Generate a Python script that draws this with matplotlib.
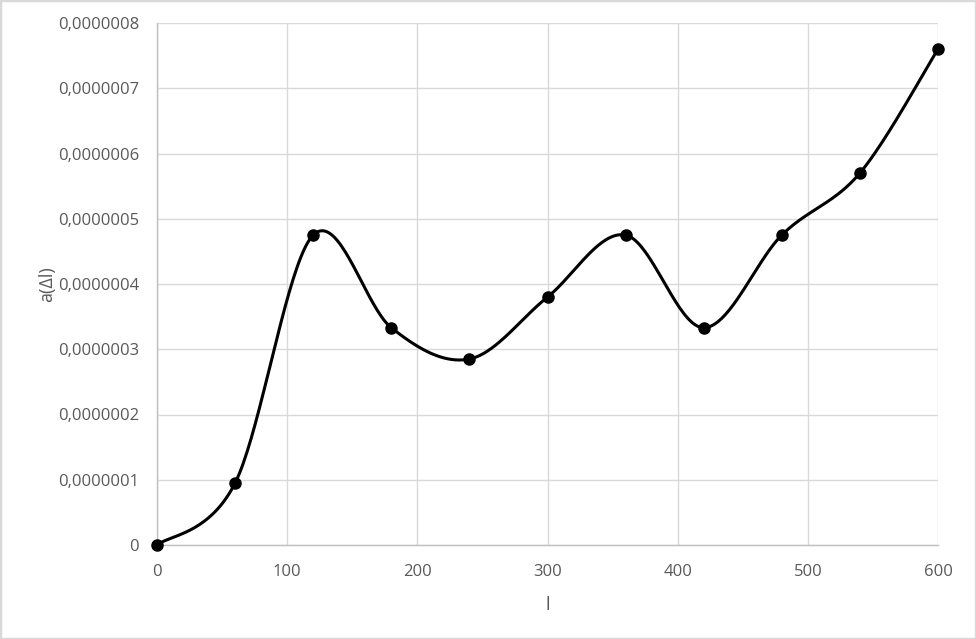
import matplotlib
matplotlib.use("Agg")
import matplotlib.pyplot as plt
import numpy as np

x_vals = [0, 60, 120, 180, 240, 300, 360, 420, 480, 540, 600]
y_vals = [0, 9.5e-8, 4.75e-7, 3.33e-7, 2.85e-7, 3.8e-7, 4.75e-7, 3.33e-7, 4.75e-7, 5.7e-7, 7.6e-7]
x_ticks = [0, 100, 200, 300, 400, 500, 600]
y_ticks = [0, 1e-7, 2e-7, 3e-7, 4e-7, 5e-7, 6e-7, 7e-7, 8e-7]
y_labels = ["0", "0,0000001", "0,0000002", "0,0000003", "0,0000004",
            "0,0000005", "0,0000006", "0,0000007", "0,0000008"]

plt.rcParams['font.family'] = ['Open Sans', 'DejaVu Sans']

def smooth(xs, ys, n=40):
    P = np.column_stack([xs, ys]).astype(float)
    out = []
    m = len(P)
    for i in range(m - 1):
        p0 = P[i - 1] if i > 0 else P[i]
        p1 = P[i]
        p2 = P[i + 1]
        p3 = P[i + 2] if i + 2 < m else P[i + 1]
        c1 = p1 + (p2 - p0) / 6.0
        c2 = p2 - (p3 - p1) / 6.0
        t = np.linspace(0, 1, n)[:, None]
        seg = ((1 - t) ** 3) * p1 + 3 * ((1 - t) ** 2) * t * c1 + 3 * (1 - t) * t ** 2 * c2 + t ** 3 * p2
        if i > 0:
            seg = seg[1:]
        out.append(seg)
    out = np.vstack(out)
    return out[:, 0], out[:, 1]

fig = plt.figure(figsize=(9.76, 6.39), dpi=100)
ax = fig.add_axes([157/976, 1 - 545/639, (938 - 157)/976, (545 - 23)/639])

sx, sy = smooth(x_vals, y_vals)
ax.plot(sx, sy, color='black', lw=2.2, zorder=3, solid_capstyle='round')
ax.plot(x_vals, y_vals, 'o', color='black', ms=8, zorder=4, clip_on=False)

ax.set_xlim(0, 600)
ax.set_ylim(0, 8e-7)
ax.set_xticks(x_ticks)
ax.set_yticks(y_ticks)
ax.set_yticklabels(y_labels)
ax.grid(True, color='#d9d9d9', lw=1)
ax.set_axisbelow(True)
for s in ['top', 'right']:
    ax.spines[s].set_visible(False)
for s in ['left', 'bottom']:
    ax.spines[s].set_color('#bfbfbf')
    ax.spines[s].set_linewidth(1)
ax.tick_params(length=0, labelsize=12, colors='#595959')
ax.tick_params(axis='y', pad=13)
ax.tick_params(axis='x', pad=14)
ax.set_xlabel('l', fontsize=13, color='#595959', labelpad=11)
ax.set_ylabel('a(Δl)', fontsize=13, color='#595959', labelpad=1)

fig.patches.append(plt.Rectangle((0, 0), 1, 1, transform=fig.transFigure,
                                 fill=False, edgecolor='#d9d9d9', lw=2.5))

fig.savefig('out.png', dpi=100)
